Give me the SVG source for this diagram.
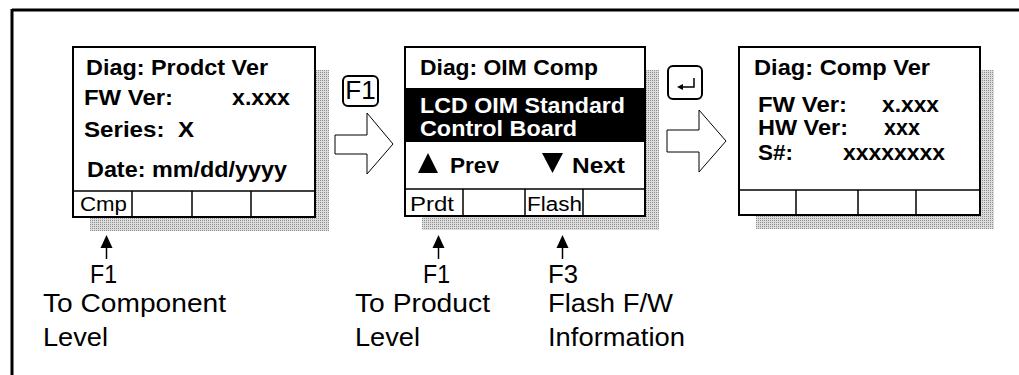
<svg xmlns="http://www.w3.org/2000/svg" width="1019" height="375" viewBox="0 0 1019 375">
<style>
.box{fill:#fff;stroke:#000;stroke-width:2}
.ln{stroke:#000;stroke-width:1.5;fill:none}
.b{font-family:"Liberation Sans",Arial,sans-serif;font-weight:bold;font-size:22px;fill:#000}
.w{fill:#fff}
.sk{font-family:"Liberation Sans",Arial,sans-serif;font-size:20px;fill:#000}
.lb{font-family:"Liberation Sans",Arial,sans-serif;font-size:26px;fill:#000}
.shd{fill:url(#dots)}
.arw{fill:#fff;stroke:#000;stroke-width:1}
.key{fill:#fff;stroke:#000;stroke-width:2}
</style>
<defs>
<pattern id="dots" width="2" height="2" patternUnits="userSpaceOnUse">
<rect width="2" height="2" fill="#dcdcdc"/>
<rect width="1" height="1" fill="#909090"/>
</pattern>
</defs>
<rect width="1019" height="375" fill="#fff"/>
<g id="frame">
<line x1="12" y1="10" x2="1019" y2="10" stroke="#000" stroke-width="3"/>
<line x1="12" y1="9" x2="12" y2="375" stroke="#000" stroke-width="3"/>
</g>
<g id="screen-product">
<rect class="shd" x="315" y="70" width="14" height="161"/>
<rect class="shd" x="90" y="217" width="239" height="14"/>
<rect class="box" x="73" y="47" width="242" height="170"/>
<line class="ln" x1="73" y1="191" x2="315" y2="191"/>
<line class="ln" x1="132" y1="191" x2="132" y2="217"/>
<line class="ln" x1="192" y1="191" x2="192" y2="217"/>
<line class="ln" x1="251" y1="191" x2="251" y2="217"/>
<text class="b" x="86" y="75" textLength="182" lengthAdjust="spacingAndGlyphs">Diag: Prodct Ver</text>
<text class="b" x="84" y="105" textLength="89" lengthAdjust="spacingAndGlyphs">FW Ver:</text>
<text class="b" x="232" y="105" textLength="58" lengthAdjust="spacingAndGlyphs">x.xxx</text>
<text class="b" x="84" y="137" textLength="110" lengthAdjust="spacingAndGlyphs" xml:space="preserve">Series:  X</text>
<text class="b" x="87" y="177" textLength="200" lengthAdjust="spacingAndGlyphs">Date: mm/dd/yyyy</text>
<text class="sk" x="80" y="211" textLength="47" lengthAdjust="spacingAndGlyphs">Cmp</text>
</g>
<g id="screen-oim">
<rect class="shd" x="645" y="70" width="14" height="160"/>
<rect class="shd" x="422" y="216" width="237" height="14"/>
<rect class="box" x="405" y="47" width="240" height="169"/>
<rect x="405" y="88" width="240" height="54" fill="#000"/>
<line class="ln" x1="405" y1="189" x2="645" y2="189"/>
<line class="ln" x1="463" y1="189" x2="463" y2="216"/>
<line class="ln" x1="525" y1="189" x2="525" y2="216"/>
<line class="ln" x1="583" y1="189" x2="583" y2="216"/>
<text class="b" x="420" y="75" textLength="178" lengthAdjust="spacingAndGlyphs">Diag: OIM Comp</text>
<text class="b w" x="420" y="113" textLength="205" lengthAdjust="spacingAndGlyphs">LCD OIM Standard</text>
<text class="b w" x="420" y="136" textLength="157" lengthAdjust="spacingAndGlyphs">Control Board</text>
<polygon points="418,173 438,173 428,153" fill="#000"/>
<text class="b" x="450" y="173" textLength="49" lengthAdjust="spacingAndGlyphs">Prev</text>
<polygon points="542,153 563,153 552.5,173" fill="#000"/>
<text class="b" x="572" y="173" textLength="53" lengthAdjust="spacingAndGlyphs">Next</text>
<text class="sk" x="410" y="211" textLength="44" lengthAdjust="spacingAndGlyphs">Prdt</text>
<text class="sk" x="527" y="211" textLength="55" lengthAdjust="spacingAndGlyphs">Flash</text>
</g>
<g id="screen-comp">
<rect class="shd" x="980" y="70" width="14" height="159"/>
<rect class="shd" x="756" y="215" width="238" height="14"/>
<rect class="box" x="739" y="47" width="241" height="168"/>
<line class="ln" x1="739" y1="190" x2="980" y2="190"/>
<line class="ln" x1="796" y1="190" x2="796" y2="215"/>
<line class="ln" x1="858" y1="190" x2="858" y2="215"/>
<line class="ln" x1="916" y1="190" x2="916" y2="215"/>
<text class="b" x="754" y="75" textLength="176" lengthAdjust="spacingAndGlyphs">Diag: Comp Ver</text>
<text class="b" x="758" y="112" textLength="89" lengthAdjust="spacingAndGlyphs">FW Ver:</text>
<text class="b" x="882" y="112" textLength="57" lengthAdjust="spacingAndGlyphs">x.xxx</text>
<text class="b" x="758" y="135" textLength="90" lengthAdjust="spacingAndGlyphs">HW Ver:</text>
<text class="b" x="884" y="135" textLength="36" lengthAdjust="spacingAndGlyphs">xxx</text>
<text class="b" x="758" y="160" textLength="35" lengthAdjust="spacingAndGlyphs">S#:</text>
<text class="b" x="843" y="160" textLength="102" lengthAdjust="spacingAndGlyphs">xxxxxxxx</text>
</g>
<g id="key-f1">
<rect class="key" x="343" y="76" width="35" height="30" rx="5"/>
<text class="lb" x="360.5" y="99" font-size="21" text-anchor="middle">F1</text>
</g>
<g id="key-enter">
<rect class="key" x="668" y="66" width="34" height="33" rx="5"/>
<path d="M694,78 V87 H681" fill="none" stroke="#000" stroke-width="1.5"/>
<polygon points="677,87 683,84 683,90" fill="#000"/>
</g>
<g id="connectors">
<polygon class="arw" points="335,135 367,135 367,113 393,144 367,174 367,154 335,154"/>
<polygon class="arw" points="667,130 699,130 699,110 726,141 699,172 699,152 667,152"/>
<g fill="#000" stroke="#000">
<line x1="106.5" y1="246" x2="106.5" y2="259" stroke-width="1.5"/>
<polygon points="106.5,235 100.5,248 112.5,248" stroke="none"/>
<line x1="438.5" y1="246" x2="438.5" y2="259" stroke-width="1.5"/>
<polygon points="438.5,235 432.5,248 444.5,248" stroke="none"/>
<line x1="562.5" y1="246" x2="562.5" y2="259" stroke-width="1.5"/>
<polygon points="562.5,235 556.5,248 568.5,248" stroke="none"/>
</g>
</g>
<g id="label-cmp">
<text class="lb" x="90" y="283" textLength="27" lengthAdjust="spacingAndGlyphs">F1</text>
<text class="lb" x="43" y="312" textLength="183" lengthAdjust="spacingAndGlyphs">To Component</text>
<text class="lb" x="43" y="346" textLength="65" lengthAdjust="spacingAndGlyphs">Level</text>
</g>
<g id="label-prdt">
<text class="lb" x="423" y="283" textLength="27" lengthAdjust="spacingAndGlyphs">F1</text>
<text class="lb" x="355" y="312" textLength="135" lengthAdjust="spacingAndGlyphs">To Product</text>
<text class="lb" x="355" y="346" textLength="65" lengthAdjust="spacingAndGlyphs">Level</text>
</g>
<g id="label-flash">
<text class="lb" x="548" y="283" textLength="30" lengthAdjust="spacingAndGlyphs">F3</text>
<text class="lb" x="548" y="312" textLength="125" lengthAdjust="spacingAndGlyphs">Flash F/W</text>
<text class="lb" x="548" y="346" textLength="137" lengthAdjust="spacingAndGlyphs">Information</text>
</g>
</svg>
